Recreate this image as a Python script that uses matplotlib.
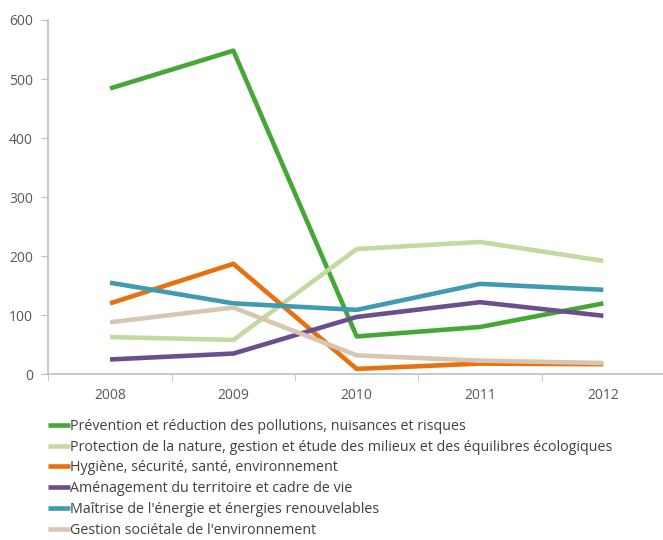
import matplotlib.pyplot as plt

# data
years = ['2008', '2009', '2010', '2011', '2012']
prevention = [484, 548, 64, 80, 120]
protection = [63, 58, 212, 224, 192]
hygiene = [120, 187, 9, 18, 17]
amenagement = [25, 35, 97, 122, 99]
maitrise = [155, 120, 109, 153, 143]
gestion = [88, 113, 32, 23, 19]

labels = ["Prévention et réduction des pollutions, nuisances et risques",
          "Protection de la nature, gestion et étude des milieux et des équilibres écologiques",
          "Hygiène, sécurité, santé, environnement",
          "Aménagement du territoire et cadre de vie",
          "Maîtrise de l'énergie et énergies renouvelables",
          "Gestion sociétale de l'environnement"]
colors = ['#46A737', '#C4D9A0', '#E8700F', '#6B4F8C', '#3F9AB3', '#D7C6B2']
series = [prevention, protection, hygiene, amenagement, maitrise, gestion]

plt.rcParams['font.family'] = ['Open Sans', 'DejaVu Sans']

fig = plt.figure(figsize=(6.63, 5.4), dpi=100)
ax = fig.add_axes([0.073, 0.307, 0.93, 0.656])

x = range(len(years))
for vals, lab, col in zip(series, labels, colors):
    ax.plot(x, vals, color=col, lw=3.3, label=lab, solid_capstyle='butt')

ax.set_ylim(0, 600)
ax.set_yticks(range(0, 601, 100))
ax.set_xlim(-0.5, 4.5)
ax.set_xticks(x)
ax.set_xticklabels(years)
ax.set_xticks([i - 0.5 for i in range(6)], minor=True)
ax.tick_params(axis='x', which='major', length=0, pad=10)
ax.tick_params(axis='x', which='minor', length=5, color='#BFBFBF', direction='out')
ax.tick_params(axis='y', length=5, color='#BFBFBF', direction='out', pad=6)
ax.tick_params(labelsize=10, labelcolor='#595959')

for s in ['top', 'right']:
    ax.spines[s].set_visible(False)
for s in ['left', 'bottom']:
    ax.spines[s].set_color('#BFBFBF')
    ax.spines[s].set_linewidth(1.2)

fig.legend(loc='upper left', bbox_to_anchor=(0.072, 0.224), frameon=False,
           handlelength=1.55, handletextpad=0.0, labelspacing=0.4,
           fontsize=10.3, labelcolor='#404040', borderaxespad=0, borderpad=0)

fig.savefig('out.png', dpi=100)
